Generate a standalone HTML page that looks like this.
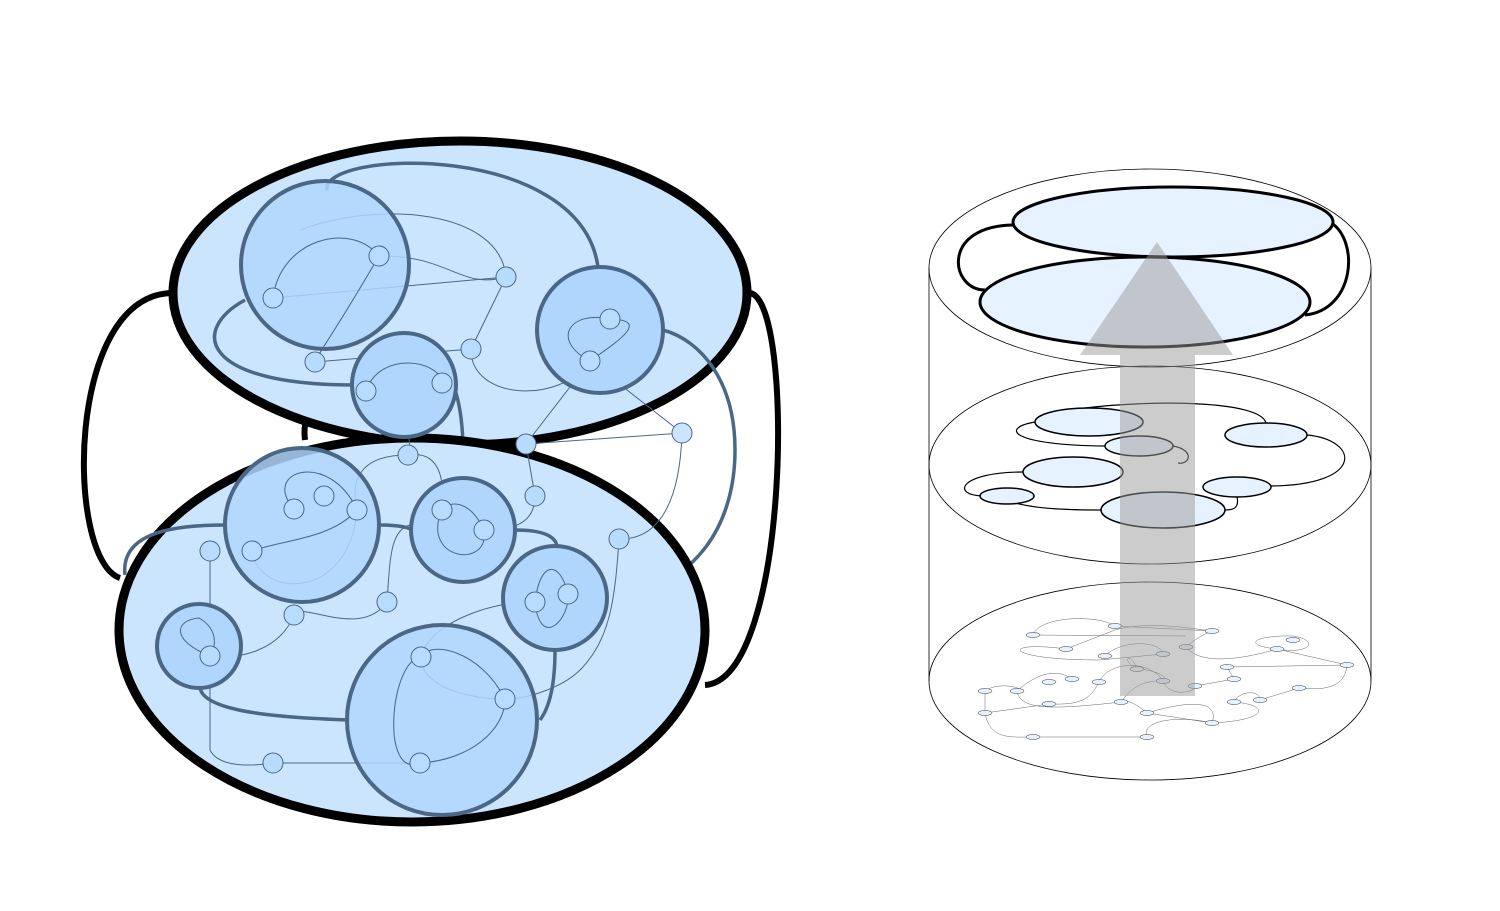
<!DOCTYPE html>
<html><head><style>body{margin:0;background:#fff}svg{display:block}</style></head><body>
<svg width="1500" height="911" viewBox="0 0 1500 911" xmlns="http://www.w3.org/2000/svg">
<g fill="none" stroke="#000" stroke-width="6">
<path d="M175,293 C65,290 65,560 120,578"/>
<path d="M750,293 C795,300 790,680 705,685"/>
<path d="M305,440 C300,405 330,392 360,390"/>
</g>
<ellipse cx="460" cy="293" rx="287" ry="152" fill="#cce5ff" stroke="#000" stroke-width="9"/>
<g fill="none" stroke="#4a6785" stroke-width="3.5">
<path d="M327,190 C320,150 580,140 598,267"/>
<path d="M245,300 C190,330 200,385 355,385"/>
<path d="M663,330 C700,340 735,380 735,450 C735,520 700,590 605,598"/>
<path d="M455,390 C465,420 463,460 463,480"/>
</g>
<ellipse cx="412" cy="630" rx="293" ry="192" fill="#cce5ff" stroke="#000" stroke-width="9"/>
<g fill="none" stroke="#4a6785" stroke-width="3.5">
<path d="M125,575 C120,530 180,525 226,525"/>
<path d="M200,688 C205,715 300,718 350,720"/>
<path d="M540,720 C555,700 555,660 555,650"/>
<path d="M515,530 C540,530 555,535 557,546"/>
<path d="M380,525 C400,525 410,528 412,530"/>
</g>
<g fill="none" stroke="#4a6785" stroke-width="1">
<path d="M273,298 C280,240 350,220 379,256"/>
<path d="M273,298 L506,277"/>
<path d="M379,256 C330,340 320,350 315,362"/>
<path d="M379,256 C450,255 460,290 506,277"/>
<path d="M506,277 L471,349 L315,362"/>
<path d="M300,230 C380,200 500,210 506,277"/>
<path d="M471,349 C470,400 560,405 590,361"/>
<path d="M590,361 L682,433"/>
<path d="M590,361 L526,444"/>
<path d="M526,444 L682,433 C680,500 660,540 619,539"/>
<path d="M366,391 C400,400 415,440 408,455"/>
<path d="M408,455 C440,450 445,480 442,510"/>
<path d="M408,455 C360,455 350,480 357,510"/>
<path d="M535,496 L526,444"/>
<path d="M535,496 C535,530 500,530 484,530"/>
<path d="M294,509 C260,470 330,450 357,510"/>
<path d="M252,551 C260,600 350,600 357,510"/>
<path d="M210,551 L210,750 C220,770 260,765 273,763 L420,763"/>
<path d="M294,615 C280,650 240,660 210,656"/>
<path d="M294,615 C300,600 360,640 387,602 C390,560 390,530 410,525"/>
<path d="M619,539 C615,600 610,640 580,670 C560,690 520,700 505,699"/>
<path d="M210,656 C170,640 175,620 199,618"/>
<path d="M421,657 C420,690 480,700 505,699"/>
<path d="M421,657 C390,660 380,780 420,763"/>
<path d="M421,657 C430,620 500,600 535,602"/>
<path d="M420,763 C470,760 505,730 505,699"/>
<path d="M568,594 C560,560 540,560 535,602 C540,650 570,620 568,594"/>
<path d="M442,510 C420,560 490,570 484,530"/>
<path d="M610,319 C570,310 550,340 590,361 C620,340 650,320 610,319 C600,300 640,280 610,290"/>
</g>
<g fill="#b0d6fd" stroke="#4a6785" stroke-width="4">
<circle cx="325" cy="265" r="84" fill-opacity="0.85"/>
<circle cx="600" cy="330" r="63"/>
<circle cx="404" cy="385" r="52"/>
<circle cx="302" cy="525" r="77" fill-opacity="0.85"/>
<circle cx="463" cy="530" r="52"/>
<circle cx="555" cy="598" r="52"/>
<circle cx="199" cy="646" r="42"/>
<circle cx="442" cy="720" r="95" fill-opacity="0.85"/>
</g>
<g fill="none" stroke="#4a6785" stroke-width="1">
<path d="M273,298 C280,240 350,220 379,256 C330,340 320,350 315,362"/>
<path d="M366,391 C380,350 440,360 442,383"/>
<path d="M294,509 C260,470 330,450 357,510 C330,540 280,540 252,551"/>
<path d="M442,510 C420,560 490,570 484,530 C470,500 450,500 442,510"/>
<path d="M421,657 C390,660 380,780 420,763 C470,760 505,730 505,699 C480,650 430,640 421,657"/>
<path d="M568,594 C560,560 540,560 535,602 C540,650 570,620 568,594"/>
<path d="M210,656 C170,640 175,620 199,618 C220,630 215,650 210,656"/>
<path d="M610,319 C570,310 550,340 590,361 C620,340 650,320 610,319"/>
</g>
<g fill="#b8dcff" stroke="#4a6785" stroke-width="1">
<circle cx="379" cy="256" r="10"/><circle cx="273" cy="298" r="10"/><circle cx="506" cy="277" r="10"/>
<circle cx="315" cy="362" r="10"/><circle cx="471" cy="349" r="10"/><circle cx="610" cy="319" r="10"/>
<circle cx="590" cy="361" r="10"/><circle cx="366" cy="391" r="10"/><circle cx="442" cy="383" r="10"/>
<circle cx="682" cy="433" r="10" fill="#cce5ff"/><circle cx="526" cy="444" r="10"/><circle cx="408" cy="455" r="10"/>
<circle cx="535" cy="496" r="10"/><circle cx="324" cy="496" r="10"/><circle cx="294" cy="509" r="10"/>
<circle cx="357" cy="510" r="10"/><circle cx="442" cy="510" r="10"/><circle cx="484" cy="530" r="10"/>
<circle cx="210" cy="551" r="10"/><circle cx="252" cy="551" r="10"/><circle cx="619" cy="539" r="10"/>
<circle cx="387" cy="602" r="10"/><circle cx="294" cy="615" r="10"/><circle cx="535" cy="602" r="10"/>
<circle cx="568" cy="594" r="10"/><circle cx="210" cy="656" r="10"/><circle cx="421" cy="657" r="10"/>
<circle cx="505" cy="699" r="10"/><circle cx="273" cy="763" r="10"/><circle cx="420" cy="763" r="10"/>
</g>

<g fill="none" stroke="#000" stroke-width="0.8">
<ellipse cx="1150" cy="268" rx="221" ry="99"/>
<ellipse cx="1150" cy="465" rx="221" ry="99"/>
<ellipse cx="1150" cy="681" rx="221" ry="99"/>
<line x1="929" y1="268" x2="929" y2="681"/>
<line x1="1371" y1="268" x2="1371" y2="681"/>
</g>
<g fill="none" stroke="#000" stroke-width="3">
<path d="M1015,225 C940,225 950,290 985,290"/>
<path d="M1330,222 C1360,240 1355,310 1305,315"/>
</g>
<g fill="#e6f2ff" stroke="#000" stroke-width="3">
<ellipse cx="1173" cy="222" rx="160" ry="35"/>
<ellipse cx="1145" cy="302" rx="165" ry="45"/>
</g>
<g fill="none" stroke="#000" stroke-width="1.2">
<path d="M1085,408 C1150,400 1260,400 1266,423"/>
<path d="M1035,422 C1000,428 1010,445 1105,446"/>
<path d="M1173,446 C1195,450 1190,465 1178,463"/>
<path d="M1307,435 C1360,440 1365,485 1271,486"/>
<path d="M1023,472 C960,472 950,495 983,496"/>
<path d="M1007,500 C1030,510 1080,510 1101,510"/>
<path d="M1237,497 C1240,510 1230,510 1225,510"/>
</g>
<g fill="#e6f2ff" stroke="#000" stroke-width="1.5">
<ellipse cx="1089" cy="422" rx="54" ry="14"/>
<ellipse cx="1139" cy="446" rx="34" ry="10"/>
<ellipse cx="1266" cy="435" rx="41" ry="12"/>
<ellipse cx="1073" cy="472" rx="50" ry="15"/>
<ellipse cx="1007" cy="496" rx="27" ry="8"/>
<ellipse cx="1237" cy="487" rx="34" ry="10"/>
<ellipse cx="1163" cy="510" rx="62" ry="18"/>
</g>
<g fill="none" stroke="#666" stroke-width="0.5">
<path d="M1033,635 C1040,615 1100,615 1115,626 L1212,631 C1190,640 1185,650 1186,647"/>
<path d="M1033,635 L1186,636"/>
<path d="M1066,649 L1115,630 C1150,620 1200,630 1212,631"/>
<path d="M1066,649 C1000,640 1000,660 1100,660 L1163,654"/>
<path d="M1105,656 C1120,640 1160,640 1163,654"/>
<path d="M1186,647 C1200,665 1240,660 1277,649 L1347,665 L1227,667 L1234,679"/>
<path d="M1277,649 C1240,645 1255,635 1293,636 C1320,640 1310,655 1277,649"/>
<path d="M1137,669 C1130,650 1120,660 1137,669 C1160,670 1170,680 1163,681"/>
<path d="M1099,682 C1110,660 1150,660 1163,681 C1170,700 1200,690 1195,686 L1234,679"/>
<path d="M1347,665 C1345,690 1320,690 1299,688"/>
<path d="M985,691 L985,713 C990,740 1010,737 1033,737 L1147,737"/>
<path d="M985,691 C1000,680 1030,690 1017,691 C1020,710 1050,710 1121,702 C1130,690 1140,680 1163,681"/>
<path d="M1017,691 C1040,670 1060,670 1072,679"/>
<path d="M985,713 L1049,704 C1080,705 1090,700 1099,682"/>
<path d="M1121,702 C1110,705 1120,690 1147,713 L1212,723 C1220,700 1190,700 1147,713"/>
<path d="M1234,702 C1240,690 1260,690 1260,700 L1299,688"/>
<path d="M1147,737 C1140,720 1180,715 1212,723"/>
<path d="M1234,702 C1270,705 1270,720 1212,723"/>
</g>
<g fill="#e6f2ff" stroke="#333" stroke-width="0.5">
<ellipse cx="1115" cy="626" rx="7" ry="2.5"/><ellipse cx="1212" cy="631" rx="7" ry="2.5"/>
<ellipse cx="1033" cy="635" rx="7" ry="2.5"/><ellipse cx="1293" cy="640" rx="7" ry="2.5"/>
<ellipse cx="1277" cy="649" rx="7" ry="2.5"/><ellipse cx="1066" cy="649" rx="7" ry="2.5"/>
<ellipse cx="1186" cy="647" rx="7" ry="2.5"/><ellipse cx="1105" cy="656" rx="7" ry="2.5"/>
<ellipse cx="1163" cy="654" rx="7" ry="2.5"/><ellipse cx="1137" cy="669" rx="7" ry="2.5"/>
<ellipse cx="1227" cy="667" rx="7" ry="2.5"/><ellipse cx="1347" cy="665" rx="7" ry="2.5"/>
<ellipse cx="1234" cy="679" rx="7" ry="2.5"/><ellipse cx="1049" cy="682" rx="7" ry="2.5"/>
<ellipse cx="1072" cy="679" rx="7" ry="2.5"/><ellipse cx="1099" cy="682" rx="7" ry="2.5"/>
<ellipse cx="1163" cy="681" rx="7" ry="2.5"/><ellipse cx="1195" cy="686" rx="7" ry="2.5"/>
<ellipse cx="1299" cy="688" rx="7" ry="2.5"/><ellipse cx="985" cy="691" rx="7" ry="2.5"/>
<ellipse cx="1017" cy="691" rx="7" ry="2.5"/><ellipse cx="1049" cy="704" rx="7" ry="2.5"/>
<ellipse cx="1121" cy="702" rx="7" ry="2.5"/><ellipse cx="1234" cy="702" rx="7" ry="2.5"/>
<ellipse cx="1260" cy="700" rx="7" ry="2.5"/><ellipse cx="1147" cy="713" rx="7" ry="2.5"/>
<ellipse cx="985" cy="713" rx="7" ry="2.5"/><ellipse cx="1212" cy="723" rx="7" ry="2.5"/>
<ellipse cx="1033" cy="737" rx="7" ry="2.5"/><ellipse cx="1147" cy="737" rx="7" ry="2.5"/>
</g>
<path d="M1120,696 L1195,696 L1195,355 L1233,355 L1157,242 L1080,355 L1120,355 Z" fill="#999" fill-opacity="0.5"/>
</svg>
</body></html>
